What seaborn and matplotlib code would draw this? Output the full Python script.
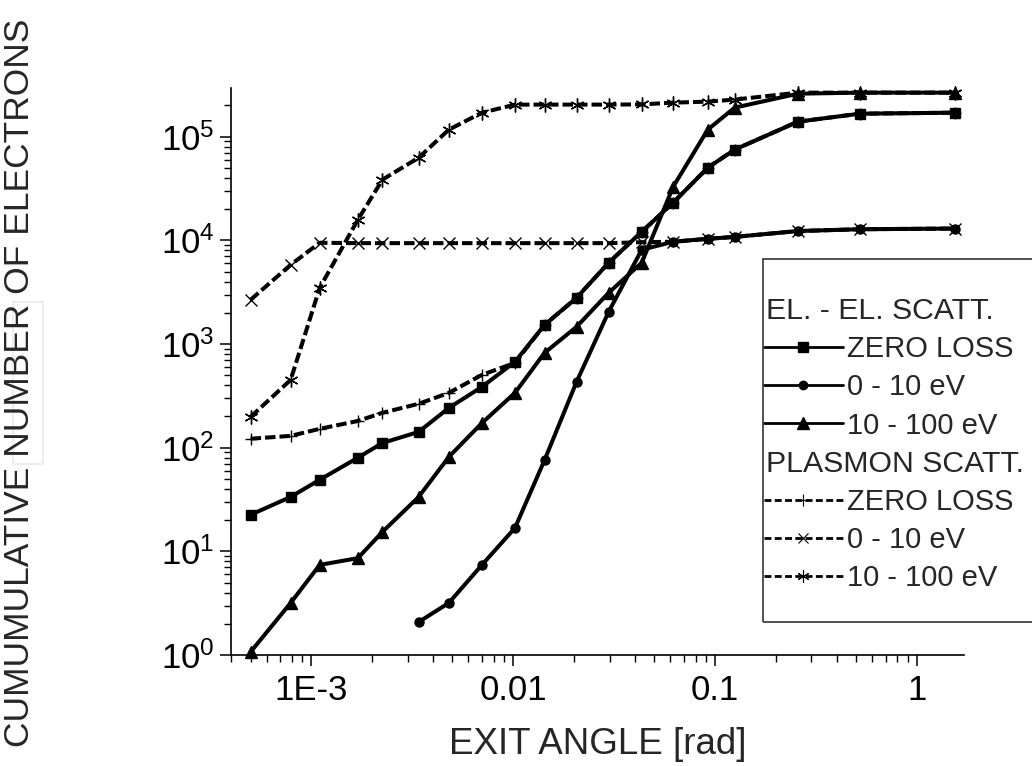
import numpy as np
import pandas as pd
import seaborn as sns
import matplotlib.pyplot as plt
from matplotlib.lines import Line2D
from matplotlib.patches import Rectangle
from matplotlib.ticker import LogLocator, FixedLocator, FixedFormatter, NullFormatter
import matplotlib.transforms as mtransforms

# exit angle [rad]
angle = [5.0e-4, 7.9e-4, 1.1e-3, 1.7e-3, 2.25e-3, 3.4e-3, 4.8e-3, 7.0e-3, 0.0102, 0.0143,
         0.0206, 0.0297, 0.0433, 0.062, 0.092, 0.125, 0.257, 0.52, 1.54]

# electron-electron scattering
el_zero = [22.5, 33.5, 49, 80, 111, 142, 242, 386, 673, 1530,
           2790, 6080, 12100, 23100, 50200, 75000, 139600, 166700, 170500]
el_0_10 = [np.nan, np.nan, np.nan, np.nan, np.nan, 2.08, 3.18, 7.4, 16.8, 76,
           432, 2045, 8110, 9700, 10350, 10800, 12300, 12800, 13000]
el_10_100 = [1.07, 3.18, 7.4, 8.6, 15.4, 33.5, 81.5, 173, 338, 822,
             1466, 3120, 6080, 32900, 117000, 190600, 260000, 266000, 266000]

# plasmon scattering
pl_zero = [122, 130, 152, 181, 217, 265, 338, 504, 658, 1530,
           2790, 6080, 12100, 23100, 50200, 75000, 139600, 166700, 170500]
pl_0_10 = [2670, 5810, 9480, 9400, 9400, 9400, 9400, 9400, 9400, 9400,
           9400, 9400, 9600, 9700, 10350, 10800, 12300, 12800, 13000]
pl_10_100 = [198, 451, 3480, 15800, 38500, 62700, 117000, 170600, 203700, 204000,
             204000, 204000, 205000, 213000, 218000, 228000, 266000, 266000, 266000]

x_ticks = [1e-3, 1e-2, 1e-1, 1]
x_labels = ['1E-3', '0.01', '0.1', '1']

sns.set_style('ticks')
plt.rcParams['font.family'] = ['Liberation Sans', 'DejaVu Sans']
plt.rcParams['mathtext.fontset'] = 'custom'
plt.rcParams['mathtext.rm'] = 'Liberation Sans'

W, H = 1032, 766
fig = plt.figure(figsize=(W / 100, H / 100), dpi=100)

# faint box left over in the scanned figure
fig.add_artist(Rectangle((13 / W, 1 - 464 / H), 30 / W, (464 - 302) / H, zorder=0,
                         transform=fig.transFigure, fill=False, edgecolor='#eeeeee', lw=1.5))

ax = fig.add_axes([231 / W, 1 - 655 / H, (964 - 231) / W, (655 - 88) / H])
ax.patch.set_alpha(0)

dash = (0, (2.6, 1.0))
series = [
    (el_zero, '-', 's', 7, 1),
    (el_0_10, '-', 'o', 6.5, 1),
    (el_10_100, '-', '^', 8, 1),
    (pl_zero, dash, '+', 9, 1.0),
    (pl_0_10, dash, 'x', 8, 1.0),
    (pl_10_100, dash, (6, 2, 0), 10, 1.0),
]

for vals, ls, mk, ms, mew in series:
    df = pd.DataFrame({'angle': angle, 'n': vals}).dropna()
    sns.lineplot(data=df, x='angle', y='n', ax=ax, color='black', linestyle=ls,
                 linewidth=2.9, marker=mk, markersize=ms, markeredgewidth=mew,
                 markeredgecolor='black', markerfacecolor='black',
                 estimator=None, legend=False, clip_on=False)

ax.set_xscale('log')
ax.set_yscale('log')
ax.set_xlim(4e-4, 1.71)
ax.set_ylim(1, 2.95e5)

ax.xaxis.set_major_locator(FixedLocator(x_ticks))
ax.xaxis.set_major_formatter(FixedFormatter(x_labels))
ax.xaxis.set_minor_locator(LogLocator(base=10, subs=np.arange(2, 10), numticks=20))
ax.xaxis.set_minor_formatter(NullFormatter())
ax.yaxis.set_major_locator(LogLocator(base=10, numticks=10))
ax.yaxis.set_minor_locator(LogLocator(base=10, subs=np.arange(2, 10), numticks=20))
ax.yaxis.set_minor_formatter(NullFormatter())

sns.despine(ax=ax)
for s in ['left', 'bottom']:
    ax.spines[s].set_linewidth(1.2)
    ax.spines[s].set_color('black')
ax.tick_params(which='major', direction='out', length=8, width=1.1, colors='black',
               labelsize=25, pad=6)
ax.tick_params(which='minor', direction='out', length=5, width=1.0, colors='black')
ax.tick_params(axis='y', which='major', pad=4)

ax.set_xlabel('EXIT ANGLE [rad]', fontsize=26.5)
ax.xaxis.label.set_va('center')
ax.xaxis.set_label_coords(0.5, (655 - 745) / (655 - 88))
ax.set_ylabel('CUMUMULATIVE NUMBER OF ELECTRONS', fontsize=25.5)
ax.yaxis.label.set_va('center')
ax.yaxis.set_label_coords((20 - 231) / (964 - 231), (655 - 383) / (655 - 88))

# legend
blank = Line2D([], [], linestyle='none')
ldash = (0, (2.5, 1.2))
handles = [
    blank,
    Line2D([], [], color='black', lw=2, marker='s', ms=7),
    Line2D([], [], color='black', lw=2, marker='o', ms=6),
    Line2D([], [], color='black', lw=2, marker='^', ms=8),
    blank,
    Line2D([], [], color='black', lw=2, ls=ldash, marker='+', ms=9, mew=0.8),
    Line2D([], [], color='black', lw=2, ls=ldash, marker='x', ms=7, mew=0.8),
    Line2D([], [], color='black', lw=2, ls=ldash, marker=(6, 2, 0), ms=9, mew=0.8),
]
labels = ['EL. - EL. SCATT.', 'ZERO LOSS', '0 - 10 eV', '10 - 100 eV',
          'PLASMON SCATT.', 'ZERO LOSS', '0 - 10 eV', '10 - 100 eV']
fs = 21
hl, htp = 2.7, 0.15
leg = ax.legend(handles, labels, loc='upper left', bbox_to_anchor=(764 / W, 1 - 297 / H),
                bbox_transform=fig.transFigure, frameon=False, borderpad=0,
                borderaxespad=0, handlelength=hl, handletextpad=htp,
                labelspacing=0.35, fontsize=fs, numpoints=1)
shift = (hl + htp) * fs * 100 / 72 - 2
for i in (0, 4):
    t = leg.get_texts()[i]
    t.set_fontsize(21.8)
    t.set_transform(t.get_transform() + mtransforms.Affine2D().translate(-shift, 0))

fig.add_artist(Rectangle((763 / W, 1 - 622 / H), (1040 - 763) / W, (622 - 259) / H,
                         transform=fig.transFigure, fill=False, edgecolor='#333333', lw=1.2))

fig.savefig('out.png', dpi=100)
